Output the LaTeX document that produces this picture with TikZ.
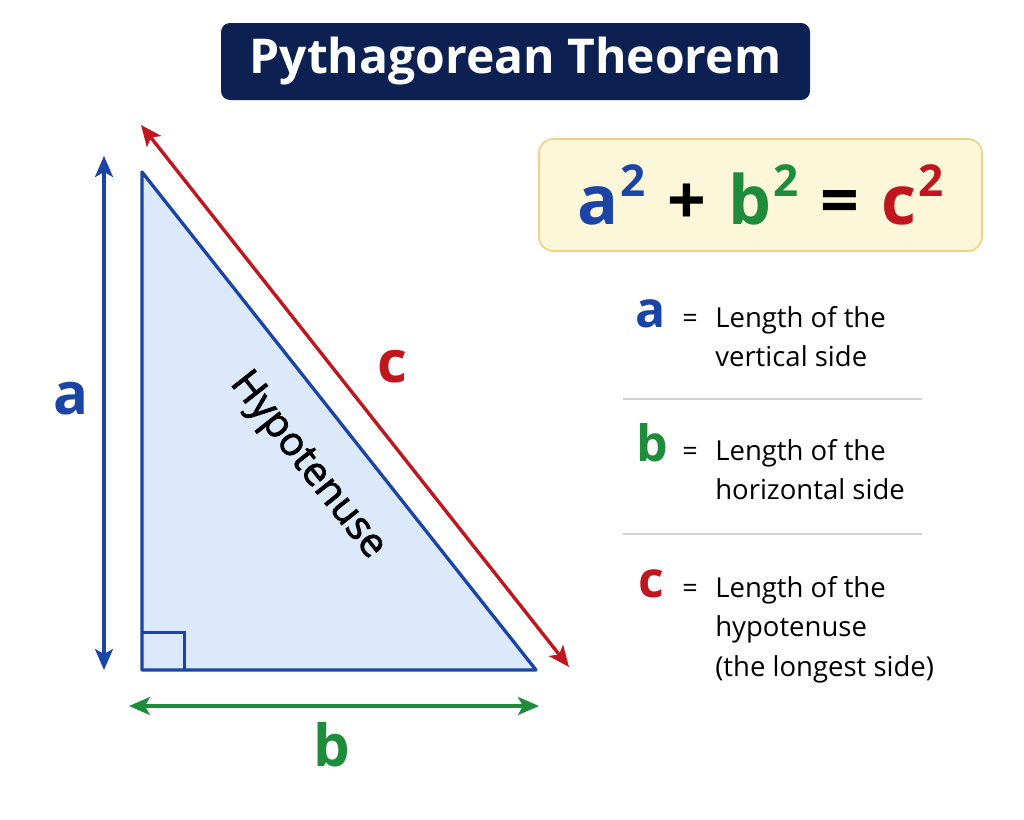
\documentclass[tikz,border=0pt]{standalone}
\usepackage{fontspec}
\setmainfont{Open Sans}
\newfontfamily\medfont[FakeBold=2]{Open Sans}
\usepackage{xcolor}
\usetikzlibrary{arrows.meta}
\usetikzlibrary{positioning}

\definecolor{navy}{HTML}{0C2152}
\definecolor{sideblue}{HTML}{1A44A6}
\definecolor{sidegreen}{HTML}{1E8C3A}
\definecolor{sidered}{HTML}{C0161E}
\definecolor{trifill}{HTML}{DCE9FB}
\definecolor{boxfill}{HTML}{FDF7DA}
\definecolor{boxline}{HTML}{F0D27E}
\definecolor{ruleline}{HTML}{D2D2D2}

\newcommand{\sqr}{\hspace{2pt}\raisebox{28pt}{\fontsize{44}{44}\selectfont 2}}

\begin{document}
\begin{tikzpicture}[x=1pt,y=-1pt,>={Stealth[length=21pt,width=18pt,inset=5pt]},semithick]
 \tikzstyle{sidelabel}=[font=\fontsize{58}{58}\selectfont\bfseries]
 \tikzstyle{dimarrow}=[<->,line width=3.4pt]
 \tikzstyle{keyletter}=[font=\fontsize{50}{50}\selectfont\bfseries,anchor=base]
 \tikzstyle{keytext}=[font=\fontsize{27.5}{39.5}\selectfont,align=left,anchor=north west,inner sep=0pt]
 \tikzstyle{equals}=[font=\fontsize{27}{27}\selectfont,anchor=base]
 \useasboundingbox (0,0) rectangle (1024,819);
 % title
 \node[fill=navy,rounded corners=9pt,minimum width=589pt,minimum height=77pt,
       text=white,font=\fontsize{48}{48}\selectfont\bfseries] (title) at (515.5,61.5) {Pythagorean Theorem};
 % triangle
 \coordinate (top) at (142,172);
 \coordinate (rightangle) at (142,670);
 \coordinate (corner) at (536,670);
 \draw[sideblue,fill=trifill,line width=3.3pt,line join=round] (top) -- (rightangle) -- (corner) -- cycle;
 \draw[sideblue,line width=3pt] (rightangle) ++(0,-38) -| ++(42,38);
 \node[rotate=-51.6,font=\fontsize{40}{40}\medfont] (hyp) at (307,466) {Hypotenuse};
 % side arrows
 \coordinate (aTop) at (104,156);
 \coordinate (aBot) at (104,670);
 \coordinate (bLeft) at (129,706);
 \coordinate (bRight) at (539,706);
 \coordinate (cTop) at (141,125);
 \coordinate (cBot) at (569,667);
 \draw[dimarrow,sideblue] (aTop) -- (aBot);
 \draw[dimarrow,sidegreen] (bLeft) -- (bRight);
 \draw[dimarrow,sidered] (cTop) -- (cBot);
 \node[sidelabel,text=sideblue] (la) at (71,399) {a};
 \node[sidelabel,text=sidegreen] (lb) at (332,745) {b};
 \node[sidelabel,text=sidered] (lc) at (392,367) {c};
 % formula
 \node[fill=boxfill,draw=boxline,line width=1.6pt,rounded corners=14pt,
       minimum width=443pt,minimum height=112pt,font=\fontsize{68}{68}\selectfont\bfseries] (formula) at (760.5,195)
   {\textcolor{sideblue}{a\sqr}\hspace{22pt}+\hspace{22pt}\textcolor{sidegreen}{b\sqr}\hspace{22pt}=\hspace{22pt}\textcolor{sidered}{c\sqr}};
 % legend
 \node[keyletter,text=sideblue] (keyA) at (651,327) {a};
 \node[equals] (eqA) at (690,327) {=};
 \node[keytext] (defA) at (715,306) {Length of the\\vertical side};
 \draw[ruleline,line width=1.3pt] (623,399) -- (922,399);
 \node[keyletter,text=sidegreen] (keyB) at (652,461) {b};
 \node[equals] (eqB) at (690,460) {=};
 \node[keytext] (defB) at (715,439) {Length of the\\horizontal side};
 \draw[ruleline,line width=1.3pt] (623,534) -- (922,534);
 \node[keyletter,text=sidered] (keyC) at (651,597) {c};
 \node[equals] (eqC) at (690,597) {=};
 \node[keytext] (defC) at (715,576) {Length of the\\hypotenuse\\(the longest side)};
\end{tikzpicture}
\end{document}
